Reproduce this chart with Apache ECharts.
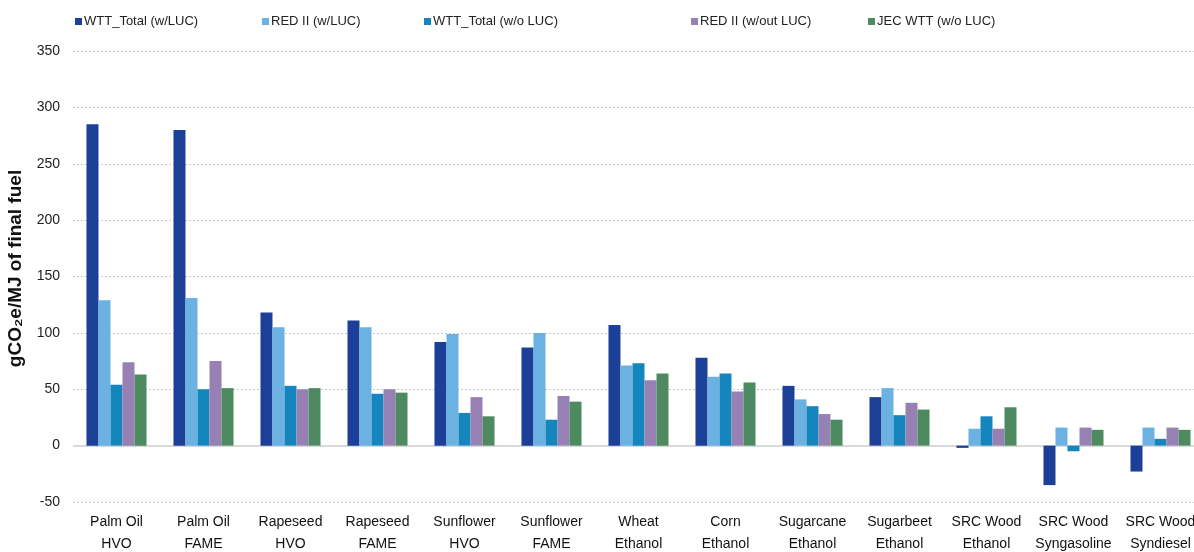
<!DOCTYPE html>
<html><head><meta charset="utf-8">
<script src="https://cdn.jsdelivr.net/npm/echarts@6/dist/echarts.min.js"></script>
<style>html,body{margin:0;padding:0;background:#fff}#c{width:1194px;height:552px}</style>
</head><body><div id="c"></div>
<script>
const categories = ["Palm Oil\nHVO","Palm Oil\nFAME","Rapeseed\nHVO","Rapeseed\nFAME","Sunflower\nHVO","Sunflower\nFAME","Wheat\nEthanol","Corn\nEthanol","Sugarcane\nEthanol","Sugarbeet\nEthanol","SRC Wood\nEthanol","SRC Wood\nSyngasoline","SRC Wood\nSyndiesel"];
const seriesNames = ["WTT_Total (w/LUC)","RED II (w/LUC)","WTT_Total (w/o LUC)","RED II (w/out LUC)","JEC WTT (w/o LUC)"];
const wttTotalLUC = [285, 280, 118, 111, 92, 87, 107, 78, 53, 43, -2, -35, -23];
const red2LUC     = [129, 131, 105, 105, 99, 100, 71, 61, 41, 51, 15, 16, 16];
const wttTotalNoLUC = [54, 50, 53, 46, 29, 23, 73, 64, 35, 27, 26, -5, 6];
const red2NoLUC   = [74, 75, 50, 50, 43, 44, 58, 48, 28, 38, 15, 16, 16];
const jecWTT      = [63, 51, 51, 47, 26, 39, 64, 56, 23, 32, 34, 14, 14];
const yTicks = {min: -50, max: 350, interval: 50};
const colors = ["#1c4098","#6bb1e1","#1585be","#9780b4","#4d8a60"];
const values = [wttTotalLUC, red2LUC, wttTotalNoLUC, red2NoLUC, jecWTT];
const legendLeft = [70, 257, 419, 686, 863];

const font = "'Liberation Sans', Arial, sans-serif";
const chart = echarts.init(document.getElementById('c'));
const series = seriesNames.map((n, i) => {
  const s = {
    name: n, type: 'bar', data: values[i],
    barGap: '0%', barCategoryGap: '31%',
    itemStyle: {color: colors[i]},
    emphasis: {disabled: true}
  };
  if (i === 0) {
    s.markLine = {silent: true, symbol: 'none', label: {show: false},
      lineStyle: {color: '#d9d9d9', width: 2, type: 'solid'},
      data: [{yAxis: 0}], z: 1};
  }
  return s;
});
chart.setOption({
  animation: false,
  color: colors,
  legend: seriesNames.map((n, i) => ({
    data: [n], left: legendLeft[i], top: 10, itemWidth: 7, itemHeight: 7, itemGap: 0,
    icon: 'rect', selectedMode: false,
    textStyle: {fontFamily: font, fontSize: 13, color: '#222', padding: [0,0,0,-3]}
  })),
  grid: {left: 73, right: -10, top: 51, bottom: 50, containLabel: false, outerBoundsMode: 'none'},
  xAxis: {
    type: 'category', data: categories,
    axisLine: {show: false, onZero: false}, axisTick: {show: false},
    axisLabel: {interval: 0, fontFamily: font, fontSize: 14, color: '#111', lineHeight: 22, margin: 9}
  },
  yAxis: {
    type: 'value', min: yTicks.min, max: yTicks.max, interval: yTicks.interval,
    name: 'gCO₂e/MJ of final fuel', nameLocation: 'middle', nameGap: 47,
    nameTextStyle: {fontFamily: font, fontSize: 19, fontWeight: 'bold', color: '#111', padding: [0, 0, 0, 16]},
    axisLine: {show: false}, axisTick: {show: false},
    axisLabel: {fontFamily: font, fontSize: 14, color: '#222', margin: 13},
    splitLine: {lineStyle: {color: '#c8c8c8', type: [2, 2], width: 1}}
  },
  series: series
});
</script></body></html>
